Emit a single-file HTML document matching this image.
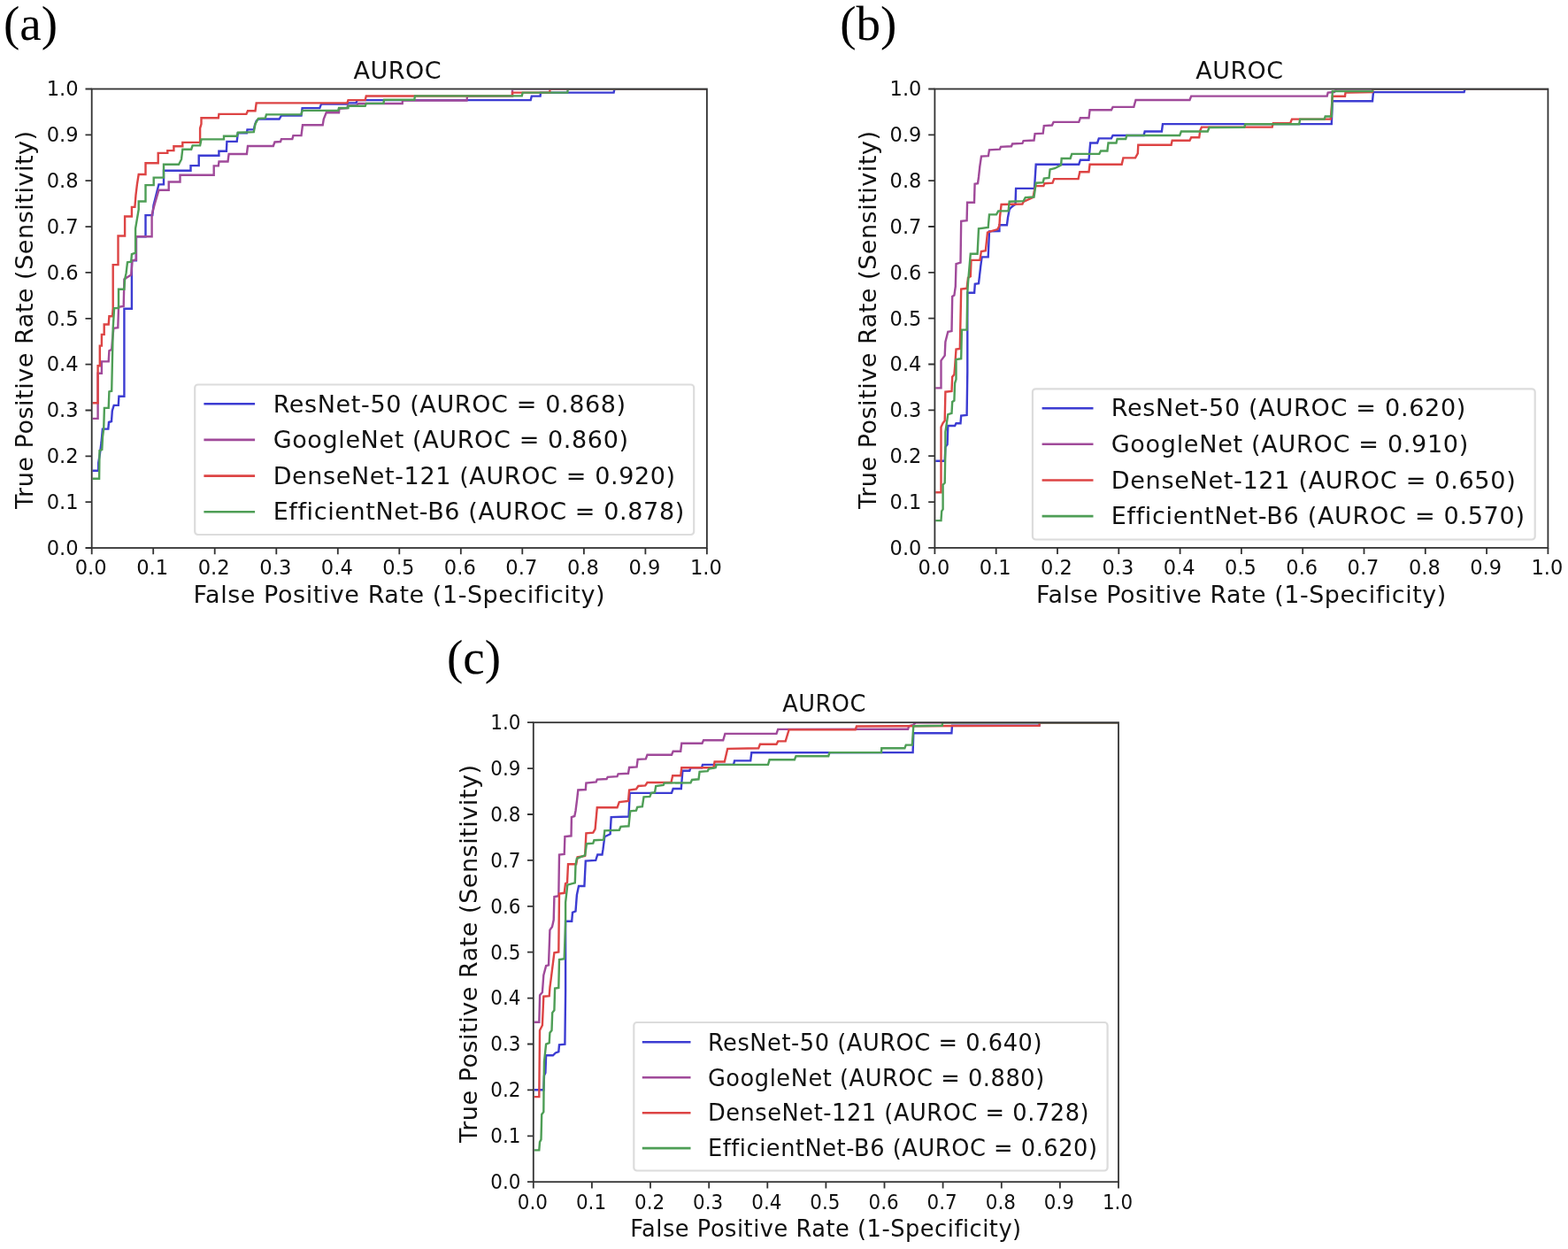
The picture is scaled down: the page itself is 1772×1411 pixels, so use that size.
<!DOCTYPE html>
<html><head><meta charset="utf-8"><title>AUROC</title>
<style>html,body{margin:0;padding:0;background:#fff;} svg{display:block;}</style></head>
<body><svg width="1772" height="1411" viewBox="0 0 1772 1411">
<rect width="1772" height="1411" fill="#fff"/>
<text x="4" y="44.5" font-family="'Liberation Serif', 'DejaVu Serif', serif" font-size="55">(a)</text>
<g font-family="'DejaVu Sans', 'Liberation Sans', sans-serif" fill="#111">
<text x="449.3" y="88.5" font-size="27" text-anchor="middle" letter-spacing="0.47">AUROC</text>
<text x="451.3" y="681" font-size="27" text-anchor="middle" letter-spacing="0.54">False Positive Rate (1-Specificity)</text>
<text transform="translate(37 361.2) scale(1.0000 1) rotate(-90)" font-size="27" letter-spacing="0.53" text-anchor="middle">True Positive Rate (Sensitivity)</text>
<text x="102.7" y="649.3" font-size="22.6" text-anchor="middle">0.0</text>
<text x="88.7" y="626.8" font-size="22.6" text-anchor="end">0.0</text>
<text x="172.2" y="649.3" font-size="22.6" text-anchor="middle">0.1</text>
<text x="88.7" y="574.9" font-size="22.6" text-anchor="end">0.1</text>
<text x="241.7" y="649.3" font-size="22.6" text-anchor="middle">0.2</text>
<text x="88.7" y="523.1" font-size="22.6" text-anchor="end">0.2</text>
<text x="311.3" y="649.3" font-size="22.6" text-anchor="middle">0.3</text>
<text x="88.7" y="471.3" font-size="22.6" text-anchor="end">0.3</text>
<text x="380.8" y="649.3" font-size="22.6" text-anchor="middle">0.4</text>
<text x="88.7" y="419.4" font-size="22.6" text-anchor="end">0.4</text>
<text x="450.3" y="649.3" font-size="22.6" text-anchor="middle">0.5</text>
<text x="88.7" y="367.6" font-size="22.6" text-anchor="end">0.5</text>
<text x="519.8" y="649.3" font-size="22.6" text-anchor="middle">0.6</text>
<text x="88.7" y="315.7" font-size="22.6" text-anchor="end">0.6</text>
<text x="589.3" y="649.3" font-size="22.6" text-anchor="middle">0.7</text>
<text x="88.7" y="263.9" font-size="22.6" text-anchor="end">0.7</text>
<text x="658.9" y="649.3" font-size="22.6" text-anchor="middle">0.8</text>
<text x="88.7" y="212" font-size="22.6" text-anchor="end">0.8</text>
<text x="728.4" y="649.3" font-size="22.6" text-anchor="middle">0.9</text>
<text x="88.7" y="160.1" font-size="22.6" text-anchor="end">0.9</text>
<text x="797.9" y="649.3" font-size="22.6" text-anchor="middle">1.0</text>
<text x="88.7" y="108.3" font-size="22.6" text-anchor="end">1.0</text>
</g>
<clipPath id="clipa"><rect x="104.6" y="101.4" width="693.4" height="516.7"/></clipPath>
<g clip-path="url(#clipa)" fill="none" stroke-width="2.4" stroke-linejoin="miter">
<polyline points="103.7,531.8 111.2,531.8 111.2,522.9 113,512 114.5,500 115.9,484.6 122.3,484.6 123,477 126,476 126.8,464.2 128.7,457.9 133.8,457.9 134.4,447.7 140.4,447.7 140.4,348.8 148.9,348.8 148.9,294.2 153.9,294.2 153.9,267.2 164.5,267.2 164.5,243.1 172.3,243.1 173.5,232 176,222 178,214 179.4,208.4 185,208.4 185,192.8 215.5,192.8 215.5,187.1 224.7,187.1 224.7,175.8 247.4,175.8 247.4,170.8 255.9,170.8 256.4,159.9 267.7,159.9 268.8,150.3 278.9,150.3 279.5,146.4 286.8,146.4 288,141 289.7,136.8 292,134.5 315.6,134.5 317.9,130.6 340.5,130.6 341.6,122.1 361.3,122.1 363,117.6 392.4,117.6 393.5,116.4 402.5,116.4 403.7,113.1 599.7,113.1 600.8,108.6 610.6,108.6 611,104.6 693.6,104.6 694.5,100.5 798.9,100.5" stroke="#3c3cd2"/>
<polyline points="103.7,472.9 110.6,472.9 110.6,421.8 114.9,421.8 114.9,408.4 122.7,408.4 123.4,396.3 126.2,394.9 127,383.8 128.4,370.8 133.3,370.1 134,346.7 139.7,346 140.4,315.5 142.6,314 148.2,310.5 149.6,294.2 153.9,293.5 153.9,267.2 171.6,267.2 171.6,242.4 175,230 179.4,214.8 190.7,214.8 190.7,205.5 203.5,205.5 203.5,197.7 241.7,197.7 241.7,187.4 246.8,187.4 247.5,182.5 257.5,182.5 258.6,174 278.9,174 280,165 308.8,165 310.5,160.5 317,160 318,157.1 330.3,157.1 331.4,153.1 340.5,153.1 342,141.3 364.7,141.3 365.8,134.5 368.7,127.2 383,127.2 383.5,122.7 392.4,122 393,119.5 403,119 405,117 454.7,117 455,113.5 527.5,113.5 528,108.6 579,108.4 579,100.5 798.9,100.5" stroke="#a04a9a"/>
<polyline points="103.7,455.2 110.6,455.2 110.6,413.3 112.8,413.3 112.8,390.6 114.9,390.6 114.9,377.9 117.7,377.9 117.7,366.5 122.7,366.5 123.4,357.3 127,357.3 127.7,348.1 127.7,299.1 133.5,299.1 133.5,266.5 141.1,266.5 141.1,244.5 148.9,244.5 148.9,233.9 152.4,233.9 153.5,220 154.9,208.4 156.7,197 164.5,197 164.5,184.3 178.7,184.3 178.7,172.9 189.3,172.9 189.3,170.1 196.4,170.1 196.4,165.2 206.3,165.2 206.3,160.9 226.1,160.9 226.1,145 227.5,140 227.5,133.3 246.8,133.3 247.4,128.9 278.4,128.9 280,125.2 288.5,125.2 289.7,116.4 392.4,116.4 393.5,113.1 412.7,113.1 413.8,108.5 579,108.4 579,104.6 621.4,104.6 621.4,100.5 798.9,100.5" stroke="#dd4444"/>
<polyline points="103.7,540.8 112.1,540.8 112.5,509 115.3,508 116,493.6 117.2,484.6 117.9,460.9 122.7,460.9 123.4,442.4 126.2,441.7 127.7,370.8 129.1,348.1 134,348.1 134,326.8 140.4,326.8 141.1,315.5 142.6,308.4 144,296.3 148.2,295.6 148.9,287.1 153.1,285.7 153.1,258 156.7,236.7 156.7,227.5 164.5,227.5 164.5,209.1 173.7,209.1 173.7,200.6 185,200.6 185,185.7 202,185.7 205,180 206.3,168.7 216.2,168.7 217.6,164.4 226.1,164.4 227.5,157.4 253,157.4 253,153.7 267.7,153.7 268.8,149.7 286.8,149.2 288.5,140 291.9,133.9 299.8,133.4 301,129.4 340.5,129.4 341.6,124.9 382.2,124.9 383,122 393.5,122 393.6,119.8 412.7,119.8 413.8,116.9 433.5,116.9 434,112.7 468.3,112.7 469,108.4 589.8,108.2 590.7,104.6 641.3,104.6 641.7,100.5 798.9,100.5" stroke="#4e9e56"/>
</g>
<path d="M103.7,619v7.2 M103.7,619h-7.2 M173.2,619v7.2 M103.7,567.1h-7.2 M242.7,619v7.2 M103.7,515.3h-7.2 M312.3,619v7.2 M103.7,463.5h-7.2 M381.8,619v7.2 M103.7,411.6h-7.2 M451.3,619v7.2 M103.7,359.8h-7.2 M520.8,619v7.2 M103.7,307.9h-7.2 M590.3,619v7.2 M103.7,256.1h-7.2 M659.9,619v7.2 M103.7,204.2h-7.2 M729.4,619v7.2 M103.7,152.3h-7.2 M798.9,619v7.2 M103.7,100.5h-7.2" stroke="#333" stroke-width="1.8" fill="none"/>
<rect x="103.7" y="100.5" width="695.2" height="518.5" fill="none" stroke="#333" stroke-width="1.8"/>
<rect x="220.2" y="434.5" width="564" height="169.5" rx="3.5" fill="#fff" stroke="#dcdcdc" stroke-width="2.2"/>
<g font-family="'DejaVu Sans', 'Liberation Sans', sans-serif" fill="#111">
<line x1="230.4" y1="456.3" x2="288.1" y2="456.3" stroke="#3c3cd2" stroke-width="2.6"/>
<text x="308.7" y="465.5" font-size="27" text-anchor="start" letter-spacing="0.62">ResNet-50 (AUROC = 0.868)</text>
<line x1="230.4" y1="496.9" x2="288.1" y2="496.9" stroke="#a04a9a" stroke-width="2.6"/>
<text x="308.7" y="506.1" font-size="27" text-anchor="start" letter-spacing="0.62">GoogleNet (AUROC = 0.860)</text>
<line x1="230.4" y1="537.6" x2="288.1" y2="537.6" stroke="#dd4444" stroke-width="2.6"/>
<text x="308.7" y="546.8" font-size="27" text-anchor="start" letter-spacing="0.62">DenseNet-121 (AUROC = 0.920)</text>
<line x1="230.4" y1="578.2" x2="288.1" y2="578.2" stroke="#4e9e56" stroke-width="2.6"/>
<text x="308.7" y="587.4" font-size="27" text-anchor="start" letter-spacing="0.62">EfficientNet-B6 (AUROC = 0.878)</text>
</g>
<text x="949.3" y="44.8" font-family="'Liberation Serif', 'DejaVu Serif', serif" font-size="55">(b)</text>
<g font-family="'DejaVu Sans', 'Liberation Sans', sans-serif" fill="#111">
<text transform="translate(1400.9 88.5) scale(0.9968 1)" font-size="27" text-anchor="middle" letter-spacing="0.47">AUROC</text>
<text transform="translate(1402.9 680.9) scale(0.9968 1)" font-size="27" text-anchor="middle" letter-spacing="0.54">False Positive Rate (1-Specificity)</text>
<text transform="translate(989.9 361.2) scale(0.9968 1) rotate(-90)" font-size="27" letter-spacing="0.53" text-anchor="middle">True Positive Rate (Sensitivity)</text>
<text transform="translate(1055.4 649.2) scale(0.9968 1)" font-size="22.6" text-anchor="middle">0.0</text>
<text transform="translate(1041.4 626.7) scale(0.9968 1)" font-size="22.6" text-anchor="end">0.0</text>
<text transform="translate(1124.7 649.2) scale(0.9968 1)" font-size="22.6" text-anchor="middle">0.1</text>
<text transform="translate(1041.4 574.9) scale(0.9968 1)" font-size="22.6" text-anchor="end">0.1</text>
<text transform="translate(1194 649.2) scale(0.9968 1)" font-size="22.6" text-anchor="middle">0.2</text>
<text transform="translate(1041.4 523) scale(0.9968 1)" font-size="22.6" text-anchor="end">0.2</text>
<text transform="translate(1263.3 649.2) scale(0.9968 1)" font-size="22.6" text-anchor="middle">0.3</text>
<text transform="translate(1041.4 471.2) scale(0.9968 1)" font-size="22.6" text-anchor="end">0.3</text>
<text transform="translate(1332.6 649.2) scale(0.9968 1)" font-size="22.6" text-anchor="middle">0.4</text>
<text transform="translate(1041.4 419.3) scale(0.9968 1)" font-size="22.6" text-anchor="end">0.4</text>
<text transform="translate(1401.9 649.2) scale(0.9968 1)" font-size="22.6" text-anchor="middle">0.5</text>
<text transform="translate(1041.4 367.5) scale(0.9968 1)" font-size="22.6" text-anchor="end">0.5</text>
<text transform="translate(1471.2 649.2) scale(0.9968 1)" font-size="22.6" text-anchor="middle">0.6</text>
<text transform="translate(1041.4 315.7) scale(0.9968 1)" font-size="22.6" text-anchor="end">0.6</text>
<text transform="translate(1540.5 649.2) scale(0.9968 1)" font-size="22.6" text-anchor="middle">0.7</text>
<text transform="translate(1041.4 263.8) scale(0.9968 1)" font-size="22.6" text-anchor="end">0.7</text>
<text transform="translate(1609.8 649.2) scale(0.9968 1)" font-size="22.6" text-anchor="middle">0.8</text>
<text transform="translate(1041.4 212) scale(0.9968 1)" font-size="22.6" text-anchor="end">0.8</text>
<text transform="translate(1679.1 649.2) scale(0.9968 1)" font-size="22.6" text-anchor="middle">0.9</text>
<text transform="translate(1041.4 160.1) scale(0.9968 1)" font-size="22.6" text-anchor="end">0.9</text>
<text transform="translate(1748.4 649.2) scale(0.9968 1)" font-size="22.6" text-anchor="middle">1.0</text>
<text transform="translate(1041.4 108.3) scale(0.9968 1)" font-size="22.6" text-anchor="end">1.0</text>
</g>
<clipPath id="clipb"><rect x="1057.3" y="101.4" width="691.2" height="516.6"/></clipPath>
<g clip-path="url(#clipb)" fill="none" stroke-width="2.4" stroke-linejoin="miter">
<polyline points="1056.4,520.7 1067.7,520.7 1068.4,505.1 1070.6,502 1071.3,481 1079.1,481 1080.5,478.2 1085.5,478.2 1086.2,469.6 1092.6,469 1093.3,420 1093.3,330.8 1101.1,330.8 1101.8,320.9 1106,320.2 1108.2,301 1109.6,290.4 1116.7,290.4 1118,261.3 1129.4,261 1129.4,254.3 1137.9,254.3 1139,245.8 1140.7,236.7 1142.4,234.5 1145.2,232.2 1147.5,231 1148.1,212.9 1169,212.9 1170.7,185.7 1219.2,185.7 1220.9,180.7 1230.5,180.7 1232.2,161.5 1240.1,161.5 1241.8,156.4 1255.9,156.4 1257.6,153 1292.6,153 1293.7,148.5 1312.9,148.5 1314,140.1 1504.8,140.1 1505.8,114.3 1551,114.3 1552,104.1 1654.6,104.1 1655.6,100.5 1749.4,100.5" stroke="#3c3cd2"/>
<polyline points="1056.4,438.4 1063.5,438.4 1063.5,407.4 1067.7,401.7 1068.4,386.1 1071.3,374.8 1075.5,374.1 1076.2,335 1078.4,333.6 1079.8,323.7 1080.5,298.2 1085.5,296.7 1086.2,249.9 1092.6,249.2 1093.1,228.8 1101,228.8 1101.6,207.8 1105,207.2 1106,200 1107.3,188 1109,176.6 1116.9,176.1 1118,169.3 1129.9,168.7 1131,165.9 1143,165.3 1144.1,162.5 1155.4,161.9 1156.6,159.1 1168.5,158.5 1169.6,151.1 1178.7,150.6 1179.8,142.1 1188.9,141.5 1190.6,137.9 1219.2,137.8 1220.9,133.3 1230.5,133.3 1231.6,124.3 1255.9,124.3 1257.6,120.9 1281.3,120.9 1283.5,113 1344.5,113 1346.2,108.6 1499.7,108.6 1500.7,104.6 1508,104 1510.3,100.5 1749.4,100.5" stroke="#a04a9a"/>
<polyline points="1056.4,556.2 1063.5,556.2 1063.5,482.4 1065.6,478 1067.7,475.3 1068.4,442.7 1075.5,442 1076.2,425.7 1078.4,423 1079.1,414.5 1080.5,394.6 1084.8,393.9 1086.2,326.5 1092.6,325.8 1094,313.8 1096.8,312.3 1097.5,293.9 1107.4,293.9 1108.9,284 1113.8,283.3 1116,262.7 1119.5,261.3 1127.3,259.1 1129.4,255 1130,245 1131.6,231 1155.4,230.5 1156.6,228 1167.5,223 1169,215 1170.2,210.1 1179.3,210.1 1180.5,207.2 1189.5,206.7 1191.2,202.1 1218.6,202.1 1220.3,194.2 1230.5,194.2 1231.6,185.8 1267.7,185.8 1269.4,178.4 1283,178.4 1285.8,173.4 1286.3,163.8 1323.6,163.8 1324.7,158.7 1344.5,158.7 1346.2,155.3 1355.2,155.3 1356.3,147.4 1358,143.6 1437.7,143.6 1438.8,139.3 1458.1,139.3 1460,134.6 1503.8,134.6 1505.8,108.7 1520,108.7 1520.5,104.6 1551,104.1 1551.5,100.5 1749.4,100.5" stroke="#dd4444"/>
<polyline points="1056.4,588.1 1063.5,588.1 1064.2,577.4 1065.6,575.3 1065.6,547.7 1067.7,545.5 1068.4,505 1068.4,488 1071.3,468.2 1075.5,466.8 1076.2,454 1078.4,452.6 1079.1,432.8 1080.5,428.5 1080.5,406 1086.2,405.3 1086.9,372.6 1092.6,372.6 1093.3,330.8 1094,319.4 1096.8,286.8 1104.6,286.8 1106,258.4 1116.7,257 1118,242.4 1126,242.4 1128.2,238.4 1139.6,238.4 1140.7,227.7 1156.6,227.1 1158.8,223.1 1168.5,222.5 1169.6,215 1170.7,206.7 1178.7,206.1 1179.8,201.6 1185.5,201 1186.6,191.4 1192,190.2 1199.1,186.4 1199.7,179 1209.6,179 1211.3,173.9 1242.3,173.9 1244,170.5 1251.4,170.5 1252.5,161.5 1261.5,161.5 1262.6,157 1272.2,157 1273.4,153 1333.2,153 1334.9,148.5 1364.8,148.5 1366.5,144 1406.3,143.7 1407.3,140.3 1468.2,140.3 1469.2,134.6 1496.7,134.6 1497.7,131.5 1504.8,131.5 1505.8,103.1 1551,103.1 1551.5,100.5 1749.4,100.5" stroke="#4e9e56"/>
</g>
<path d="M1056.4,618.9v7.2 M1056.4,618.9h-7.2 M1125.7,618.9v7.2 M1056.4,567.1h-7.2 M1195,618.9v7.2 M1056.4,515.2h-7.2 M1264.3,618.9v7.2 M1056.4,463.4h-7.2 M1333.6,618.9v7.2 M1056.4,411.5h-7.2 M1402.9,618.9v7.2 M1056.4,359.7h-7.2 M1472.2,618.9v7.2 M1056.4,307.9h-7.2 M1541.5,618.9v7.2 M1056.4,256h-7.2 M1610.8,618.9v7.2 M1056.4,204.2h-7.2 M1680.1,618.9v7.2 M1056.4,152.3h-7.2 M1749.4,618.9v7.2 M1056.4,100.5h-7.2" stroke="#333" stroke-width="1.8" fill="none"/>
<rect x="1056.4" y="100.5" width="693" height="518.4" fill="none" stroke="#333" stroke-width="1.8"/>
<rect x="1166.9" y="439.3" width="567.8" height="170.2" rx="3.5" fill="#fff" stroke="#dcdcdc" stroke-width="2.2"/>
<g font-family="'DejaVu Sans', 'Liberation Sans', sans-serif" fill="#111">
<line x1="1177.6" y1="461.2" x2="1235.5" y2="461.2" stroke="#3c3cd2" stroke-width="2.6"/>
<text transform="translate(1255.7 470.4) scale(0.9968 1)" font-size="27.2" text-anchor="start" letter-spacing="0.66">ResNet-50 (AUROC = 0.620)</text>
<line x1="1177.6" y1="501.8" x2="1235.5" y2="501.8" stroke="#a04a9a" stroke-width="2.6"/>
<text transform="translate(1255.7 511) scale(0.9968 1)" font-size="27.2" text-anchor="start" letter-spacing="0.66">GoogleNet (AUROC = 0.910)</text>
<line x1="1177.6" y1="542.5" x2="1235.5" y2="542.5" stroke="#dd4444" stroke-width="2.6"/>
<text transform="translate(1255.7 551.7) scale(0.9968 1)" font-size="27.2" text-anchor="start" letter-spacing="0.66">DenseNet-121 (AUROC = 0.650)</text>
<line x1="1177.6" y1="583.1" x2="1235.5" y2="583.1" stroke="#4e9e56" stroke-width="2.6"/>
<text transform="translate(1255.7 592.3) scale(0.9968 1)" font-size="27.2" text-anchor="start" letter-spacing="0.66">EfficientNet-B6 (AUROC = 0.570)</text>
</g>
<text x="505" y="761.1" font-family="'Liberation Serif', 'DejaVu Serif', serif" font-size="55">(c)</text>
<g font-family="'DejaVu Sans', 'Liberation Sans', sans-serif" fill="#111">
<text transform="translate(931.5 804.2) scale(0.9511 1)" font-size="27" text-anchor="middle" letter-spacing="0.47">AUROC</text>
<text transform="translate(933.4 1397.2) scale(0.9511 1)" font-size="27" text-anchor="middle" letter-spacing="0.54">False Positive Rate (1-Specificity)</text>
<text transform="translate(539.4 1077.2) scale(0.9511 1) rotate(-90)" font-size="27" letter-spacing="0.53" text-anchor="middle">True Positive Rate (Sensitivity)</text>
<text transform="translate(601.8 1365.5) scale(0.9511 1)" font-size="22.6" text-anchor="middle">0.0</text>
<text transform="translate(588.5 1343) scale(0.9511 1)" font-size="22.6" text-anchor="end">0.0</text>
<text transform="translate(668 1365.5) scale(0.9511 1)" font-size="22.6" text-anchor="middle">0.1</text>
<text transform="translate(588.5 1291.1) scale(0.9511 1)" font-size="22.6" text-anchor="end">0.1</text>
<text transform="translate(734.1 1365.5) scale(0.9511 1)" font-size="22.6" text-anchor="middle">0.2</text>
<text transform="translate(588.5 1239.2) scale(0.9511 1)" font-size="22.6" text-anchor="end">0.2</text>
<text transform="translate(800.2 1365.5) scale(0.9511 1)" font-size="22.6" text-anchor="middle">0.3</text>
<text transform="translate(588.5 1187.3) scale(0.9511 1)" font-size="22.6" text-anchor="end">0.3</text>
<text transform="translate(866.3 1365.5) scale(0.9511 1)" font-size="22.6" text-anchor="middle">0.4</text>
<text transform="translate(588.5 1135.4) scale(0.9511 1)" font-size="22.6" text-anchor="end">0.4</text>
<text transform="translate(932.4 1365.5) scale(0.9511 1)" font-size="22.6" text-anchor="middle">0.5</text>
<text transform="translate(588.5 1083.5) scale(0.9511 1)" font-size="22.6" text-anchor="end">0.5</text>
<text transform="translate(998.6 1365.5) scale(0.9511 1)" font-size="22.6" text-anchor="middle">0.6</text>
<text transform="translate(588.5 1031.6) scale(0.9511 1)" font-size="22.6" text-anchor="end">0.6</text>
<text transform="translate(1064.7 1365.5) scale(0.9511 1)" font-size="22.6" text-anchor="middle">0.7</text>
<text transform="translate(588.5 979.7) scale(0.9511 1)" font-size="22.6" text-anchor="end">0.7</text>
<text transform="translate(1130.8 1365.5) scale(0.9511 1)" font-size="22.6" text-anchor="middle">0.8</text>
<text transform="translate(588.5 927.8) scale(0.9511 1)" font-size="22.6" text-anchor="end">0.8</text>
<text transform="translate(1196.9 1365.5) scale(0.9511 1)" font-size="22.6" text-anchor="middle">0.9</text>
<text transform="translate(588.5 875.9) scale(0.9511 1)" font-size="22.6" text-anchor="end">0.9</text>
<text transform="translate(1263 1365.5) scale(0.9511 1)" font-size="22.6" text-anchor="middle">1.0</text>
<text transform="translate(588.5 824) scale(0.9511 1)" font-size="22.6" text-anchor="end">1.0</text>
</g>
<clipPath id="clipc"><rect x="603.7" y="817.1" width="659.4" height="517.2"/></clipPath>
<g clip-path="url(#clipc)" fill="none" stroke-width="2.4" stroke-linejoin="miter">
<polyline points="602.8,1231.3 614.3,1231.3 615,1215 616.4,1212 617.1,1192.3 624.9,1192.3 627.8,1189.5 631.3,1188.1 632,1180.3 638.4,1179.6 639.1,1120 639.1,1040.7 646.2,1040.7 647,1030.8 650.5,1029.4 651.9,1010.9 654,1001 660.4,1001 661.8,972.6 673.2,971.9 675.3,965.5 680.5,965.5 681.5,959.4 683.3,945.2 689.6,942.3 690.7,923.1 710.5,922.5 711.7,895.9 759,895.7 760.7,891 769.8,891 771.4,870.7 779.3,870.7 780.5,867.3 793,867.3 794,863.9 829,863.9 830.1,859.4 848.2,859.4 849.3,850.3 1031.6,850.1 1032.3,828.3 1075.4,828.3 1076,819.7 1174.5,819.7 1175,816.2 1264,816.2" stroke="#3c3cd2"/>
<polyline points="602.8,1154.8 609.3,1154.8 610.1,1124.3 612.9,1121 614.3,1101.7 617.1,1091.1 620,1090.4 621.4,1050.6 624,1047 625.7,1039.3 626.4,1013 631.3,1012.3 632,965.5 637.7,965 638.4,945 645.5,944.3 645.9,923.1 649.3,922 650.5,916 652.2,902.7 653.3,892.5 661.8,892 662.4,884.6 673.7,883.4 674.8,880.6 685.6,880 686.7,877.8 697.5,877.2 698.6,874.4 710,873.8 711.1,867 719.6,866.4 720.7,857.9 729.8,857.4 731.5,852.8 759,852.8 760.7,848.7 769.2,848.7 770.3,839.7 793.5,839.7 795.1,836.3 817.2,836.3 819.4,828.9 877.5,828.9 879.2,823.9 1026.1,823.7 1027.3,820.2 1032,819 1035,816.2 1264,816.2" stroke="#a04a9a"/>
<polyline points="602.8,1239.1 609.3,1239.1 610,1164 612.9,1158.3 614.3,1125.7 620.7,1125.1 621.5,1115 622.5,1107.4 626.4,1076.2 631.3,1075.5 632,1009.5 637.7,1008.8 639,998.2 641,997 642,976.2 651.2,976.2 652.6,968.4 661.1,967 662.4,941.3 670.3,940.7 672.6,936.7 674.8,912.3 697.5,912.3 699.8,906.1 710,905 711.1,892.5 719,891.4 721.3,888 729.3,887.4 731.5,884 758.5,884 760.2,876.3 769.2,876.3 770.3,867.3 806.4,867.3 807.6,860.5 818.8,860.5 822.2,845.9 857.2,845.3 858.9,840.8 877.5,840.8 879.2,837.4 887.7,837.4 891.6,824.4 966.7,824.4 968,820.5 1174.5,819.7 1175,816.2 1264,816.2" stroke="#dd4444"/>
<polyline points="602.8,1299.4 609.3,1299.4 610,1290.2 611.5,1287.4 612.2,1259 614.3,1256.2 614.5,1233.5 615,1199.4 617.1,1179.6 620.7,1178.2 621.4,1166.8 623.5,1164 624.2,1144.1 626.4,1141.3 627.1,1116.6 631.3,1115.9 632,1084 637.7,1083.3 639.1,1040.7 639.1,1019.4 641.3,999.6 649.8,997.4 650.5,976.9 651.9,969.8 661.2,966.2 662.9,953.2 670.3,952.6 671.4,949.2 682.2,948.6 683.3,938.4 699.8,937.8 701.5,933.9 710.5,933.3 712.2,916.3 719,915.7 720.2,911.8 725.9,911.2 727.5,900.4 734.4,899.9 736,895.9 740,895.3 741.2,888 749.7,886.9 750.8,884.6 780.5,884.2 782,881 789.5,880.3 790.6,871.8 799.7,871.2 801,868.5 808.7,867.3 809.8,863.9 868,863.9 869.6,858.3 897.9,858.3 899.5,854.3 936.2,854.3 937.5,850.1 996,850.1 996.3,845.2 1022.4,845.2 1023.8,841.6 1030.9,841.6 1032.3,820.2 1064.7,819.7 1065.2,816.2 1264,816.2" stroke="#4e9e56"/>
</g>
<path d="M602.8,1335.2v7.2 M602.8,1335.2h-6.8 M668.9,1335.2v7.2 M602.8,1283.3h-6.8 M735,1335.2v7.2 M602.8,1231.4h-6.8 M801.2,1335.2v7.2 M602.8,1179.5h-6.8 M867.3,1335.2v7.2 M602.8,1127.6h-6.8 M933.4,1335.2v7.2 M602.8,1075.7h-6.8 M999.5,1335.2v7.2 M602.8,1023.8h-6.8 M1065.6,1335.2v7.2 M602.8,971.9h-6.8 M1131.8,1335.2v7.2 M602.8,920h-6.8 M1197.9,1335.2v7.2 M602.8,868.1h-6.8 M1264,1335.2v7.2 M602.8,816.2h-6.8" stroke="#333" stroke-width="1.8" fill="none"/>
<rect x="602.8" y="816.2" width="661.2" height="519" fill="none" stroke="#333" stroke-width="1.8"/>
<rect x="716.3" y="1155" width="535.3" height="167.5" rx="3.5" fill="#fff" stroke="#dcdcdc" stroke-width="2.2"/>
<g font-family="'DejaVu Sans', 'Liberation Sans', sans-serif" fill="#111">
<line x1="725.8" y1="1177.3" x2="780.5" y2="1177.3" stroke="#3c3cd2" stroke-width="2.6"/>
<text transform="translate(799.9 1186.5) scale(0.9511 1)" font-size="27" text-anchor="start" letter-spacing="0.57">ResNet-50 (AUROC = 0.640)</text>
<line x1="725.8" y1="1217.3" x2="780.5" y2="1217.3" stroke="#a04a9a" stroke-width="2.6"/>
<text transform="translate(799.9 1226.5) scale(0.9511 1)" font-size="27" text-anchor="start" letter-spacing="0.57">GoogleNet (AUROC = 0.880)</text>
<line x1="725.8" y1="1257.2" x2="780.5" y2="1257.2" stroke="#dd4444" stroke-width="2.6"/>
<text transform="translate(799.9 1266.4) scale(0.9511 1)" font-size="27" text-anchor="start" letter-spacing="0.57">DenseNet-121 (AUROC = 0.728)</text>
<line x1="725.8" y1="1297.1" x2="780.5" y2="1297.1" stroke="#4e9e56" stroke-width="2.6"/>
<text transform="translate(799.9 1306.3) scale(0.9511 1)" font-size="27" text-anchor="start" letter-spacing="0.57">EfficientNet-B6 (AUROC = 0.620)</text>
</g>
</svg></body></html>
